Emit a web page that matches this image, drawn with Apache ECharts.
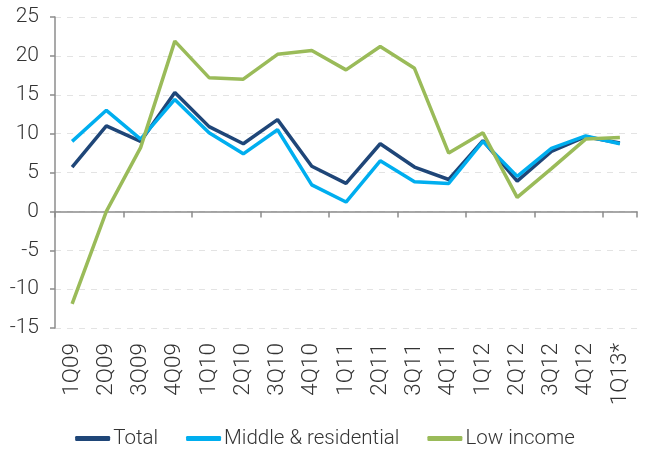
<!DOCTYPE html>
<html>
<head>
<meta charset="utf-8">
<script src="https://cdn.jsdelivr.net/npm/echarts@6/dist/echarts.min.js"></script>
<style>
  html, body { margin: 0; padding: 0; background: #fff; }
  #chart { width: 650px; height: 452px; }
</style>
</head>
<body>
<div id="chart"></div>
<script>
const quarters = ['1Q09', '2Q09', '3Q09', '4Q09', '1Q10', '2Q10', '3Q10', '4Q10', '1Q11',
  '2Q11', '3Q11', '4Q11', '1Q12', '2Q12', '3Q12', '4Q12', '1Q13*'];
const total = [5.7, 11.0, 9.0, 15.3, 10.9, 8.7, 11.8, 5.8, 3.6, 8.7, 5.7, 4.1, 9.1, 3.9, 7.7, 9.6, 8.8];
const middleResidential = [9.0, 13.0, 9.3, 14.4, 10.1, 7.4, 10.5, 3.4, 1.2, 6.5, 3.8, 3.6, 9.0, 4.5, 8.1, 9.7, 8.7];
const lowIncome = [-11.9, 0.0, 8.2, 21.9, 17.2, 17.0, 20.2, 20.7, 18.2, 21.2, 18.4, 7.5, 10.1, 1.8, 5.5, 9.3, 9.5];

function initChart() {
  const el = document.getElementById('chart');
  const chart = echarts.init(el);
  const font = 'Roboto, "Open Sans", sans-serif';
  const textColor = '#333';
  const axisGray = '#8c8c8c';

  const line = (name, data, color) => ({
    name, type: 'line', data,
    symbol: 'none',
    lineStyle: { color, width: 3.5 },
    itemStyle: { color },
    animation: false
  });

  chart.setOption({
    animation: false,
    grid: { left: 55, right: 13, top: 17, bottom: 124 },
    legend: {
      bottom: 3,
      left: 'center',
      padding: 0,
      icon: 'roundRect',
      itemWidth: 35,
      itemHeight: 5,
      itemGap: 28,
      textStyle: { color: textColor, fontSize: 20.5, fontFamily: font, fontWeight: 300, padding: [0, 0, 0, -2] },
      data: ['Total', 'Middle & residential', 'Low income']
    },
    xAxis: [{
      type: 'category',
      data: quarters,
      axisLine: { onZero: true, lineStyle: { color: axisGray, width: 1.5 } },
      axisTick: { show: true, length: 6, lineStyle: { color: axisGray, width: 1.5 } },
      axisLabel: { show: false },
      splitLine: { show: false }
    }, {
      type: 'category',
      data: quarters,
      position: 'bottom',
      axisLine: { show: false, onZero: false },
      axisTick: { show: false },
      axisLabel: {
        rotate: 90, margin: 15,
        color: textColor, fontSize: 22.5, fontFamily: font, fontWeight: 300
      }
    }],
    yAxis: {
      type: 'value',
      min: -15, max: 25, interval: 5,
      axisLine: { show: true, lineStyle: { color: axisGray, width: 1.5 } },
      axisTick: { show: true, length: 5, lineStyle: { color: axisGray, width: 1.5 } },
      axisLabel: { margin: 16, color: textColor, fontSize: 21, fontFamily: font, fontWeight: 300 },
      splitLine: { show: true, lineStyle: { color: '#e3e3e3', type: [6, 6], width: 1 } }
    },
    series: [
      line('Total', total, '#1f4678'),
      line('Middle & residential', middleResidential, '#00aeef'),
      line('Low income', lowIncome, '#9abb59')
    ]
  });

  window.addEventListener('resize', () => chart.resize());
}

initChart();
</script>
</body>
</html>
